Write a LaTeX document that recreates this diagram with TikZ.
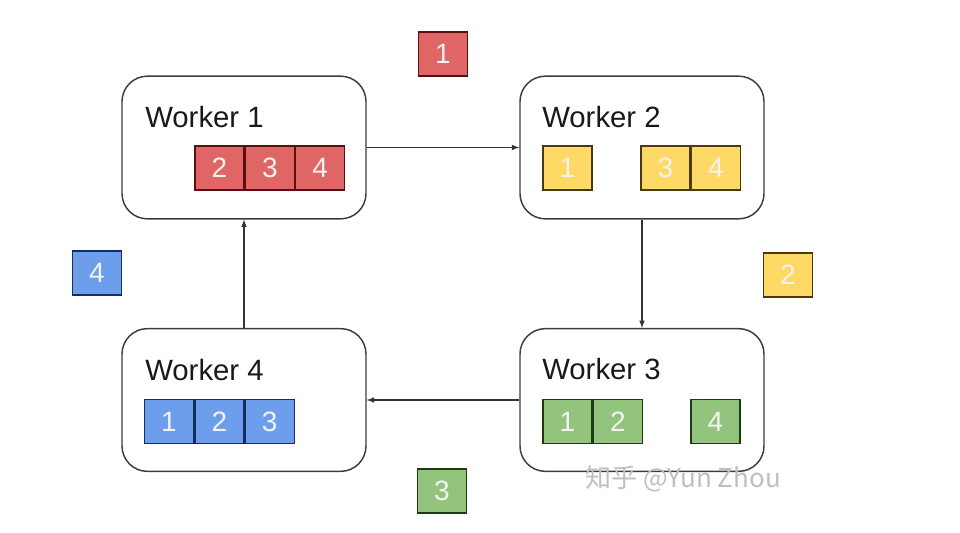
\documentclass[tikz,border=0pt]{standalone}
\usepackage{fontspec}
\setmainfont{Liberation Sans}
\newfontfamily\cjk{Noto Sans CJK SC}
\usepackage{tikz}
\usetikzlibrary{arrows}
\usetikzlibrary{positioning}
\definecolor{boxline}{HTML}{3C3C3C}
\definecolor{redfill}{HTML}{E06666}
\definecolor{redline}{HTML}{5B0F0F}
\definecolor{yellowfill}{HTML}{FFD966}
\definecolor{yellowline}{HTML}{4A3A10}
\definecolor{greenfill}{HTML}{93C47D}
\definecolor{greenline}{HTML}{1F3A12}
\definecolor{bluefill}{HTML}{6D9EEB}
\definecolor{blueline}{HTML}{142E5E}

\begin{document}
\begin{tikzpicture}[x=0.75pt,y=-0.75pt,
    worker/.style={draw=boxline,line width=1.1pt,rounded corners=19pt,
      minimum width=183pt,minimum height=107pt,inner sep=0pt},
    wname/.style={anchor=base west,inner sep=0pt,font=\fontsize{22}{26}\selectfont,text=black!90},
    cell/.style={line width=1pt,minimum width=36.75pt,minimum height=33pt,inner sep=0pt,
      font=\fontsize{21}{25}\selectfont,text=white!95!black},
    redcell/.style={cell,draw=redline,fill=redfill},
    yellowcell/.style={cell,draw=yellowline,fill=yellowfill},
    greencell/.style={cell,draw=greenline,fill=greenfill},
    bluecell/.style={cell,draw=blueline,fill=bluefill},
    pass/.style={-latex,draw=black!80,line width=0.9pt}]
  \useasboundingbox (0,0) rectangle (960,532);

  % workers
  \node[worker] (w1) at (244,147.5) {};
  \node[worker] (w2) at (642,147.5) {};
  \node[worker] (w3) at (642,400) {};
  \node[worker] (w4) at (244,400) {};
  \node[wname] (w1name) at (145,127) {Worker 1};
  \node[wname] (w2name) at (542,127) {Worker 2};
  \node[wname] (w3name) at (542,379) {Worker 3};
  \node[wname] (w4name) at (145,380) {Worker 4};

  % chunks held by each worker
  \node[redcell] (r2) at (219.5,168) {2};
  \node[redcell,right=0pt of r2] (r3) {3};
  \node[redcell,right=0pt of r3] (r4) {4};

  \node[yellowcell] (y1) at (567.5,168) {1};
  \node[yellowcell] (y3) at (665.5,168) {3};
  \node[yellowcell,right=0pt of y3] (y4) {4};

  \node[greencell] (g1) at (567.5,421.5) {1};
  \node[greencell,right=0pt of g1] (g2) {2};
  \node[greencell] (g4) at (715.5,421.5) {4};

  \node[bluecell] (b1) at (169,421.5) {1};
  \node[bluecell,right=0pt of b1] (b2) {2};
  \node[bluecell,right=0pt of b2] (b3) {3};

  % chunks in transit
  \node[redcell] (t1) at (443,54) {1};
  \node[yellowcell] (t2) at (788,275) {2};
  \node[greencell] (t3) at (442,491) {3};
  \node[bluecell] (t4) at (97,273) {4};

  % ring
  \draw[pass] (w1) -- (w2);
  \draw[pass] (w2) -- (w3);
  \draw[pass] (w3) -- (w4);
  \draw[pass] (w4) -- (w1);

  \node[anchor=west,inner sep=0pt,text=black!25,font=\cjk\fontsize{19.5}{22}\selectfont] (mark) at (585,479) {知乎 @Yun Zhou};
\end{tikzpicture}
\end{document}
